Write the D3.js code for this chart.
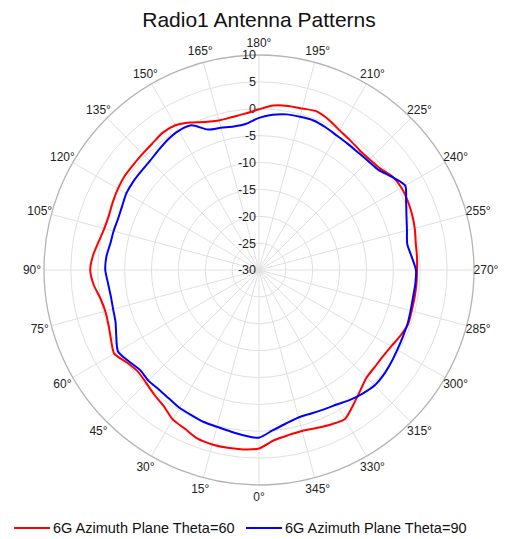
<!DOCTYPE html>
<html>
<head>
<meta charset="utf-8">
<script src="https://cdn.jsdelivr.net/npm/d3@7"></script>
<style>
  html, body { margin: 0; padding: 0; background: #fff; }
  svg { display: block; font-family: "Liberation Sans", Arial, sans-serif; }
</style>
</head>
<body>
<svg id="chart" width="507" height="539"></svg>
<script>
const title = "Radio1 Antenna Patterns";
const angles = d3.range(0, 360, 5);
const seriesNames = ["6G Azimuth Plane Theta=60", "6G Azimuth Plane Theta=90"];
const seriesColors = ["#ff0000", "#0000ff"];
const theta60 = [
  3.2, 3.5, 3.6, 3.6, 3.4, 2.6, 2.1, 0.9, 0.3, -0.3, -0.6, 0.0,
  1.1, 0.4, -0.2, -0.4, 0.0, 0.9, 1.4, 1.0, 0.3, -0.2, -0.3, 0.0,
  0.3, 0.5, 0.5, 0.6, 0.8, 1.2, 1.1, 0.3, -0.7, -1.2, -1.1, -0.8,
  -0.1, 0.7, 1.0, 1.1, 1.4, 0.8, 0.0, -0.5, -0.9, -0.9, -0.6, 0.3,
  0.6, 0.5, 0.3, 0.0, -0.4, -0.5, -0.6, -0.6, -0.6, -0.6, -0.5, -1.0,
  -1.6, -1.9, -1.9, -1.7, -0.7, 0.6, 2.0, 1.7, 1.3, 1.0, 1.2, 1.8
];
const theta90 = [
  1.2, 0.9, 0.5, 0.2, 0.1, -0.2, -0.4, -0.8, -1.0, -0.9, -1.1, -0.4,
  0.3, -0.7, -1.6, -1.9, -2.0, -1.8, -1.4, -1.5, -1.9, -2.0, -2.1, -1.9,
  -1.5, -1.4, -1.4, -1.3, -0.9, -0.4, -0.1, -0.3, -2.2, -2.6, -2.9, -2.7,
  -1.7, -1.0, -0.6, -0.5, -0.4, -0.7, -1.1, -1.3, -1.4, -1.3, -1.0, 0.2,
  1.4, 0.2, -0.8, -1.5, -2.0, -1.5, -0.8, -0.8, -0.9, -0.8, -0.6, -0.5,
  -0.3, 0.0, 0.3, 0.4, 0.0, -0.5, -1.1, -1.4, -1.6, -1.6, -1.0, -0.1
];
const radialTicks = [-30, -25, -20, -15, -10, -5, 0, 5, 10];
const angleTicks = d3.range(0, 360, 15);

const svg = d3.select("#chart");
const cx = 259, cy = 270, R = 215;

const r = d3.scaleLinear().domain([-30, 10]).range([0, R]);
// 0 deg at bottom, increasing clockwise on screen (180 at top, 270 at right)
const a = d3.scaleLinear().domain([0, 360]).range([-Math.PI, Math.PI]);

svg.append("text")
  .attr("x", 259).attr("y", 27)
  .attr("text-anchor", "middle")
  .attr("font-size", 21)
  .attr("fill", "#111")
  .text(title);

const g = svg.append("g").attr("transform", `translate(${cx},${cy})`);

// spokes
g.selectAll("line.spoke").data(angleTicks).join("line")
  .attr("class", "spoke")
  .attr("x1", 0).attr("y1", 0)
  .attr("x2", d => R * Math.sin(a(d)))
  .attr("y2", d => -R * Math.cos(a(d)))
  .attr("stroke", "#e0e0e0").attr("stroke-width", 1);

// rings
g.selectAll("circle.ring").data(radialTicks.filter(t => t > -30)).join("circle")
  .attr("class", "ring")
  .attr("r", d => r(d))
  .attr("fill", "none")
  .attr("stroke", d => d === 10 ? "#b4b4b4" : "#e0e0e0")
  .attr("stroke-width", d => d === 10 ? 1.3 : 1);

// radial tick labels along the 180 spoke
g.selectAll("text.rtick").data(radialTicks).join("text")
  .attr("class", "rtick")
  .attr("x", -3)
  .attr("y", d => -r(d))
  .attr("dy", "0.35em")
  .attr("text-anchor", "end")
  .attr("font-size", 12.5)
  .attr("fill", "#222")
  .text(d => d);

// angle labels
const LR = 227;
g.selectAll("text.atick").data(angleTicks).join("text")
  .attr("class", "atick")
  .attr("x", d => LR * Math.sin(a(d)))
  .attr("y", d => -LR * Math.cos(a(d)))
  .attr("dy", "0.35em")
  .attr("text-anchor", "middle")
  .attr("font-size", 12)
  .attr("fill", "#222")
  .text(d => d + "°");

// curves
const line = d3.lineRadial()
  .angle(d => a(d[0]))
  .radius(d => r(d[1]))
  .curve(d3.curveCardinalClosed.tension(0.3));

[theta60, theta90].forEach((vals, i) => {
  g.append("path")
    .datum(angles.map((ang, j) => [ang, vals[j]]))
    .attr("d", line)
    .attr("fill", "none")
    .attr("stroke", seriesColors[i])
    .attr("stroke-width", 2)
    .attr("stroke-linejoin", "round");
});

// legend
const legendX = [14, 246];
const legendY = 528;
seriesNames.forEach((name, i) => {
  const lg = svg.append("g").attr("transform", `translate(${legendX[i]},${legendY})`);
  lg.append("line").attr("x1", 0).attr("x2", 36).attr("y1", 0).attr("y2", 0)
    .attr("stroke", seriesColors[i]).attr("stroke-width", 2);
  lg.append("text").attr("x", 39).attr("y", 0).attr("dy", "0.35em")
    .attr("font-size", 14.5).attr("fill", "#111").text(name);
});
</script>
</body>
</html>
